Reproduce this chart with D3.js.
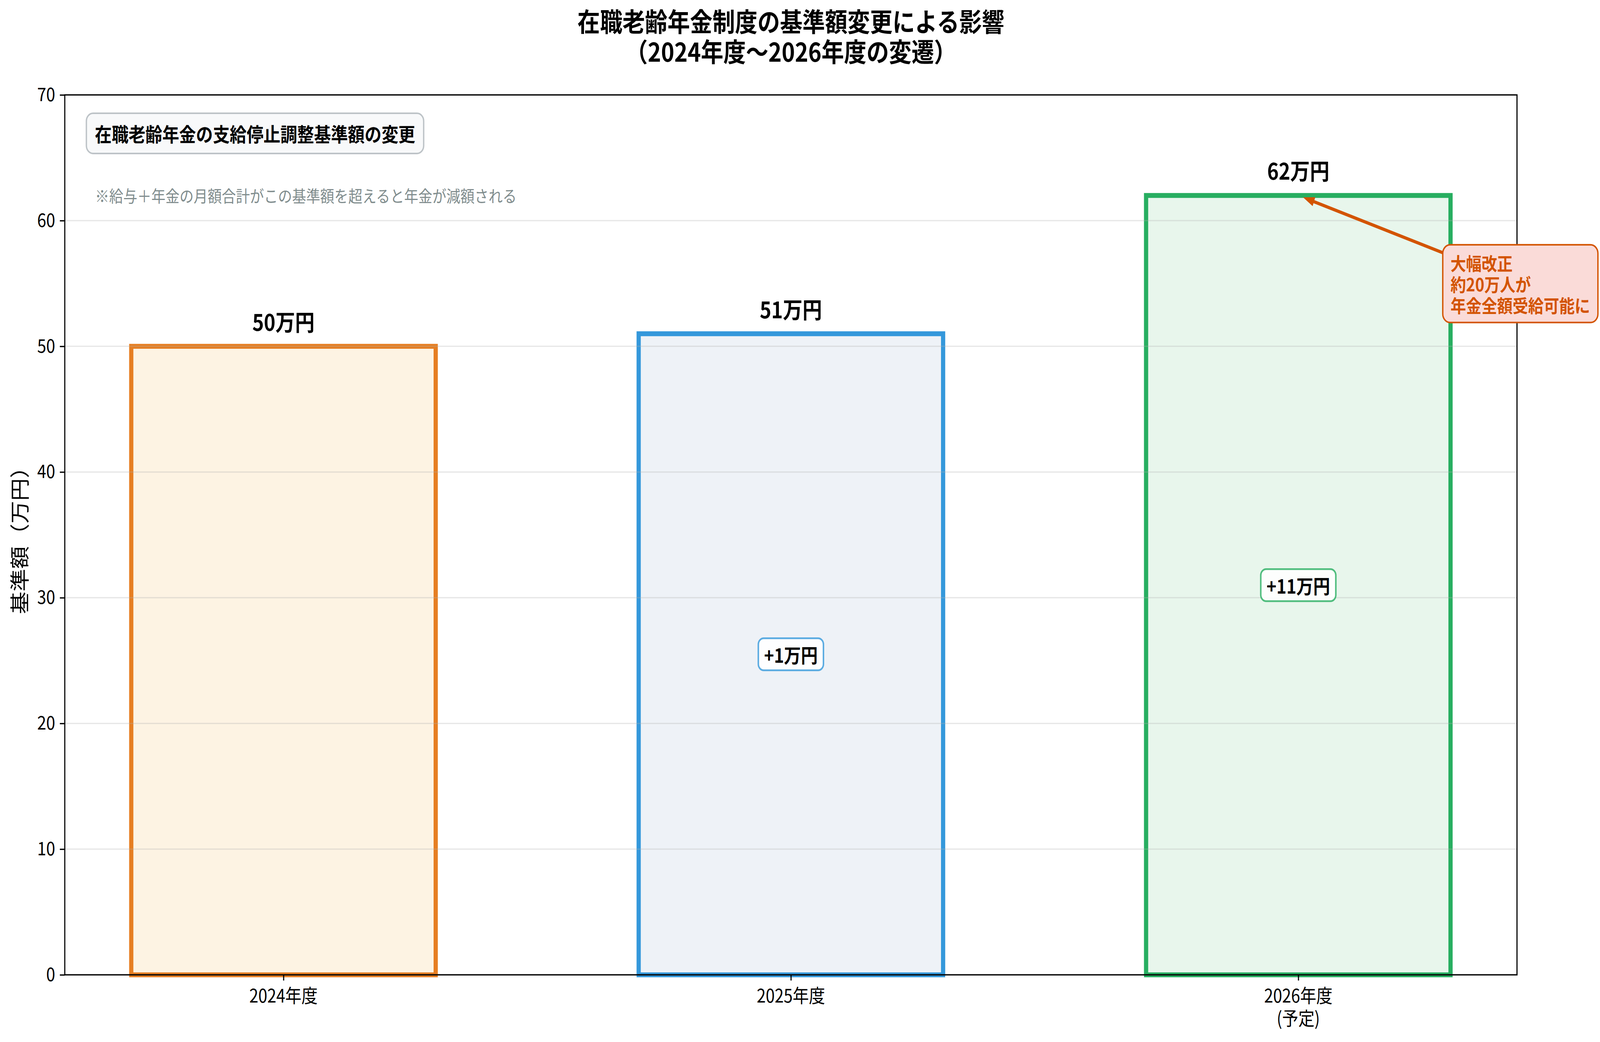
<!DOCTYPE html>
<html>
    <head>
        <meta charset="utf-8">
        <title>在職老齢年金制度の基準額変更</title>
        <script src="https://d3js.org/d3.v7.min.js"></script>
        <style>
            html, body{
                margin:0;
                padding:0;
                overflow:hidden;
                background:#ffffff;
            }
            svg{
                display:block;
                width:100vw;
                height:100vh;
                font-family:"Noto Sans CJK JP", "Noto Sans", sans-serif;
            }
        </style>
    </head>
    <body>
        <svg viewBox="0 0 4742 2668" preserveAspectRatio="none"></svg>
    </body>
    <script>
        // Daten
        const years = ["2024年度", "2025年度", "2026年度\n(予定)"];
        const amounts = [50, 51, 62];          // 基準額（万円）
        const increases = [0, 1, 11];          // 前年度からの増加
        const yTicks = [0, 10, 20, 30, 40, 50, 60, 70];

        const edgeColors = ["#e67e22", "#3498db", "#27ae60"];
        const fillColors = ["#fdf3e3", "#eef2f7", "#e8f6ec"];

        const svg = d3.select("svg");
        const plotLeft = 192, plotRight = 4496, plotTop = 243, plotBottom = 2496;

        const x = d3.scalePoint()
            .domain(d3.range(years.length))
            .range([plotLeft, plotRight])
            .padding(0.431);
        const step = x.step();
        const barW = step * 0.6;

        const y = d3.scaleLinear()
            .domain([0, 70])
            .range([plotBottom, plotTop]);

        // Balken
        svg.selectAll("rect.bar")
            .data(amounts)
            .join("rect")
            .attr("class", "bar")
            .attr("x", (d, i) => x(i) - barW / 2)
            .attr("y", d => y(d))
            .attr("width", barW)
            .attr("height", d => y(0) - y(d))
            .attr("fill", (d, i) => fillColors[i])
            .attr("stroke", (d, i) => edgeColors[i])
            .attr("stroke-width", 12.5);

        // Gitterlinien (liegen über den Balken)
        svg.append("g")
            .selectAll("line")
            .data(yTicks)
            .join("line")
            .attr("x1", plotLeft).attr("x2", plotRight)
            .attr("y1", d => y(d)).attr("y2", d => y(d))
            .attr("stroke", "#b0b0b0")
            .attr("stroke-opacity", 0.3)
            .attr("stroke-width", 3.3);

        // Rahmen
        svg.append("rect")
            .attr("x", plotLeft).attr("y", plotTop)
            .attr("width", plotRight - plotLeft).attr("height", plotBottom - plotTop)
            .attr("fill", "none")
            .attr("stroke", "#000")
            .attr("stroke-width", 3.3);

        // Y-Achse
        const yAxis = svg.append("g")
            .attr("transform", `translate(${plotLeft},0)`)
            .call(d3.axisLeft(y).tickValues(yTicks).tickSize(14.6).tickPadding(14))
        yAxis.select(".domain").remove();
        yAxis.selectAll(".tick line").attr("stroke-width", 3.3);
        yAxis.selectAll(".tick text")
            .attr("font-size", 48)
            .attr("font-family", "Noto Sans CJK JP")
            .attr("fill", "#000");

        // X-Achse
        const xAxis = svg.append("g")
            .attr("transform", `translate(0,${plotBottom})`)
            .call(d3.axisBottom(x).tickSize(14.6).tickFormat(""));
        xAxis.select(".domain").remove();
        xAxis.selectAll(".tick line").attr("stroke-width", 3.3);

        years.forEach((label, i) => {
            const t = svg.append("text")
                .attr("x", x(i))
                .attr("y", 2567)
                .attr("text-anchor", "middle")
                .attr("font-size", 48)
                .attr("fill", "#000");
            label.split("\n").forEach((line, k) => {
                t.append("tspan")
                    .attr("x", x(i))
                    .attr("dy", k === 0 ? 0 : 58)
                    .text(line);
            });
        });

        // Y-Beschriftung
        svg.append("text")
            .attr("transform", `translate(55,${(plotTop + plotBottom) / 2}) rotate(-90)`)
            .attr("text-anchor", "middle")
            .attr("dominant-baseline", "central")
            .attr("font-size", 58)
            .text("基準額（万円）");

        // Werte über den Balken
        svg.selectAll("text.value")
            .data(amounts)
            .join("text")
            .attr("class", "value")
            .attr("x", (d, i) => x(i))
            .attr("y", d => y(d) - 40)
            .attr("text-anchor", "middle")
            .attr("font-size", 58)
            .attr("font-weight", "bold")
            .text(d => d + "万円");

        // Zuwachs in der Balkenmitte
        increases.forEach((inc, i) => {
            if (inc <= 0) return;
            const g = svg.append("g");
            const cx = x(i), cy = y(amounts[i] / 2);
            const txt = g.append("text")
                .attr("x", cx).attr("y", cy)
                .attr("text-anchor", "middle")
                .attr("dominant-baseline", "central")
                .attr("font-size", 50)
                .attr("font-weight", "bold")
                .text("+" + inc + "万円");
            const bb = txt.node().getBBox();
            const pad = 17;
            g.insert("rect", "text")
                .attr("x", bb.x - pad).attr("y", cy - 41)
                .attr("width", bb.width + pad * 2).attr("height", 82)
                .attr("rx", 16)
                .attr("fill", "#ffffff").attr("fill-opacity", 0.9)
                .attr("stroke", edgeColors[i]).attr("stroke-opacity", 0.8)
                .attr("stroke-width", 4.5);
        });

        // Infobox oben links
        const info = svg.append("g");
        const infoTxt = info.append("text")
            .attr("x", 281).attr("y", 341)
            .attr("dominant-baseline", "central")
            .attr("font-size", 50)
            .attr("font-weight", "bold")
            .text("在職老齢年金の支給停止調整基準額の変更");
        const ib = infoTxt.node().getBBox();
        info.insert("rect", "text")
            .attr("x", ib.x - 25).attr("y", 290)
            .attr("width", ib.width + 50).attr("height", 103)
            .attr("rx", 20)
            .attr("fill", "#f8f9fa")
            .attr("stroke", "#bdc3c7")
            .attr("stroke-width", 4);

        svg.append("text")
            .attr("x", 282).attr("y", 500)
            .attr("dominant-baseline", "central")
            .attr("font-size", 41.7)
            .attr("fill", "#7f8c8d")
            .text("※給与＋年金の月額合計がこの基準額を超えると年金が減額される");

        // Annotation mit Pfeil
        const noteLines = ["大幅改正", "約20万人が", "年金全額受給可能に"];
        const nx = x(2) + step * 0.3, ny = y(55);
        const note = svg.append("g");
        const noteTxt = note.append("text")
            .attr("font-size", 46)
            .attr("font-weight", "bold")
            .attr("fill", "#d35400");
        noteLines.forEach((line, k) => {
            noteTxt.append("tspan")
                .attr("x", nx)
                .attr("y", ny + (k - 1) * 54)
                .attr("dominant-baseline", "central")
                .text(line);
        });
        const nb = noteTxt.node().getBBox();
        const bx0 = nx - 23, bx1 = nx + nb.width + 23;
        const by0 = ny - 99, by1 = ny + 100;
        note.insert("rect", "text")
            .attr("x", bx0).attr("y", by0)
            .attr("width", bx1 - bx0).attr("height", by1 - by0)
            .attr("rx", 22)
            .attr("fill", "#fadbd8")
            .attr("stroke", "#d35400")
            .attr("stroke-width", 4);

        // Pfeil von der Boxmitte zum Balken, an der Box abgeschnitten
        const cx0 = (bx0 + bx1) / 2, cy0 = ny;
        const tx = x(2), ty = y(62);
        const tEdge = (cx0 - bx0) / (cx0 - tx);
        const sx = bx0, sy = cy0 + (ty - cy0) * tEdge;
        const len = Math.hypot(tx - sx, ty - sy);
        const ux = (tx - sx) / len, uy = (ty - sy) / len;
        const ex = tx - ux * 15, ey = ty - uy * 15;
        const hl = 34, hw = 12;
        svg.append("line")
            .attr("x1", sx).attr("y1", sy)
            .attr("x2", ex - ux * 20).attr("y2", ey - uy * 20)
            .attr("stroke", "#d35400")
            .attr("stroke-width", 8.3);
        svg.append("path")
            .attr("d", `M${ex},${ey} L${ex - ux * hl - uy * hw},${ey - uy * hl + ux * hw} L${ex - ux * hl + uy * hw},${ey - uy * hl - ux * hw} Z`)
            .attr("fill", "#d35400");

        // Titel
        const title = svg.append("text")
            .attr("text-anchor", "middle")
            .attr("font-size", 66.7)
            .attr("font-weight", "bold");
        ["在職老齢年金制度の基準額変更による影響", "（2024年度〜2026年度の変遷）"].forEach((line, k) => {
            title.append("tspan")
                .attr("x", (plotLeft + plotRight) / 2)
                .attr("y", 81 + k * 77)
                .text(line);
        });
    </script>
</html>
